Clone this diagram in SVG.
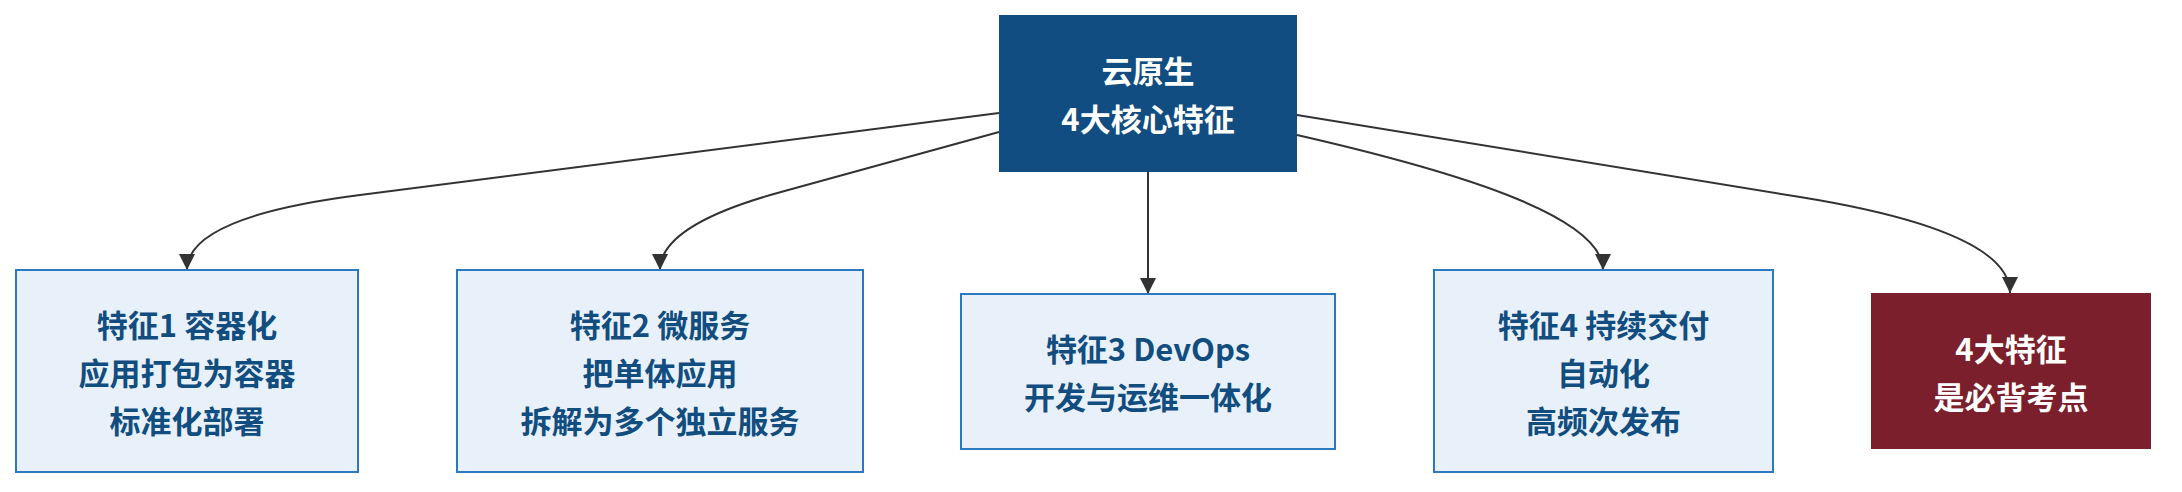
<svg xmlns="http://www.w3.org/2000/svg" width="2182" height="492" viewBox="0 0 2182 492">
<style>
  .t { font-family: "Noto Sans CJK SC", "Noto Sans", sans-serif; font-size: 31px; font-weight: bold; text-anchor: middle; dominant-baseline: central; }
  .light rect { fill: #e8f1fa; stroke: #2b79c2; stroke-width: 2; }
  .light text { fill: #124d80; }
  .dark text { fill: #ffffff; }
  .edge { fill: none; stroke: #333333; stroke-width: 2; }
</style>
<defs>
  <marker id="arrow" markerUnits="userSpaceOnUse" markerWidth="16" markerHeight="16" refX="16" refY="8" orient="auto">
    <path d="M0,0 L16,8 L0,16 z" fill="#333333"/>
  </marker>
</defs>
<rect width="2182" height="492" fill="#ffffff"/>
<g id="connectors">
  <path class="edge" marker-end="url(#arrow)" d="M999,113 L360,195 Q187,217 187,270"/>
  <path class="edge" marker-end="url(#arrow)" d="M999,132 L781,192 Q660,225 660,270"/>
  <path class="edge" marker-end="url(#arrow)" d="M1148,172 L1148,294"/>
  <path class="edge" marker-end="url(#arrow)" d="M1297,135 C1450,170 1603,215 1603,270"/>
  <path class="edge" marker-end="url(#arrow)" d="M1297,115 L1800,197 Q2010,231 2010,293"/>
</g>
<g id="root" class="dark">
  <rect x="999" y="15" width="298" height="157" fill="#114d80"/>
  <text class="t" x="1148" y="69.5">云原生</text>
  <text class="t" x="1148" y="117.5">4大核心特征</text>
</g>
<g id="f1" class="light">
  <rect x="16" y="270" width="342" height="202"/>
  <text class="t" x="187" y="323">特征1 容器化</text>
  <text class="t" x="187" y="371">应用打包为容器</text>
  <text class="t" x="187" y="419">标准化部署</text>
</g>
<g id="f2" class="light">
  <rect x="457" y="270" width="406" height="202"/>
  <text class="t" x="660" y="323">特征2 微服务</text>
  <text class="t" x="660" y="371">把单体应用</text>
  <text class="t" x="660" y="419">拆解为多个独立服务</text>
</g>
<g id="f3" class="light">
  <rect x="961" y="294" width="374" height="155"/>
  <text class="t" x="1148" y="347.5">特征3 DevOps</text>
  <text class="t" x="1148" y="395.5">开发与运维一体化</text>
</g>
<g id="f4" class="light">
  <rect x="1434" y="270" width="339" height="202"/>
  <text class="t" x="1603.5" y="323">特征4 持续交付</text>
  <text class="t" x="1603.5" y="371">自动化</text>
  <text class="t" x="1603.5" y="419">高频次发布</text>
</g>
<g id="note" class="dark">
  <rect x="1871" y="293" width="280" height="156" fill="#7b1f2d"/>
  <text class="t" x="2011" y="347">4大特征</text>
  <text class="t" x="2011" y="395">是必背考点</text>
</g>
</svg>
